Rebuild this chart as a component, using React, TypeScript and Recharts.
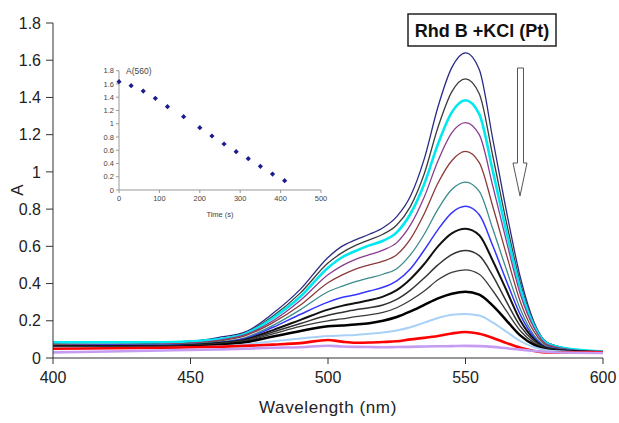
import { LineChart, Line, XAxis, YAxis, ScatterChart, Scatter } from 'recharts';

// wavelengths (nm) sampled for every spectrum
const WAVELENGTHS = [400, 420, 440, 450, 460, 470, 480, 490, 500, 505, 510, 515, 520, 525, 530, 535, 540, 545, 550, 555, 560, 565, 570, 575, 580, 590, 600];

// absorbance spectra, from t = 0 s (top) down to t = 410 s (bottom)
const S1 = [0.08, 0.085, 0.085, 0.09, 0.11, 0.14, 0.24, 0.37, 0.54, 0.6, 0.635, 0.665, 0.7, 0.76, 0.87, 1.07, 1.35, 1.56, 1.64, 1.55, 1.17, 0.78, 0.43, 0.19, 0.08, 0.045, 0.035];
const S2 = [0.075, 0.075, 0.08, 0.085, 0.1, 0.135, 0.225, 0.35, 0.51, 0.565, 0.605, 0.635, 0.665, 0.715, 0.815, 0.99, 1.24, 1.43, 1.5, 1.42, 1.08, 0.72, 0.4, 0.18, 0.08, 0.045, 0.035];
const S3 = [0.085, 0.085, 0.085, 0.09, 0.1, 0.13, 0.215, 0.33, 0.485, 0.54, 0.575, 0.605, 0.63, 0.675, 0.775, 0.935, 1.15, 1.32, 1.385, 1.31, 1.0, 0.67, 0.37, 0.17, 0.075, 0.045, 0.035];
const S4 = [0.07, 0.07, 0.075, 0.08, 0.095, 0.125, 0.2, 0.31, 0.447, 0.495, 0.53, 0.555, 0.58, 0.62, 0.715, 0.865, 1.06, 1.21, 1.265, 1.2, 0.92, 0.62, 0.34, 0.16, 0.07, 0.042, 0.035];
const S5 = [0.07, 0.07, 0.072, 0.078, 0.09, 0.12, 0.19, 0.285, 0.404, 0.445, 0.478, 0.5, 0.52, 0.555, 0.64, 0.775, 0.94, 1.06, 1.11, 1.05, 0.81, 0.55, 0.3, 0.14, 0.065, 0.04, 0.033];
const S6 = [0.068, 0.068, 0.07, 0.075, 0.085, 0.11, 0.175, 0.26, 0.356, 0.385, 0.41, 0.43, 0.45, 0.48, 0.555, 0.665, 0.8, 0.905, 0.945, 0.895, 0.69, 0.47, 0.26, 0.12, 0.06, 0.04, 0.033];
const S7 = [0.065, 0.07, 0.068, 0.072, 0.082, 0.105, 0.165, 0.235, 0.3, 0.325, 0.34, 0.36, 0.38, 0.415, 0.48, 0.58, 0.69, 0.78, 0.815, 0.77, 0.6, 0.41, 0.23, 0.11, 0.055, 0.038, 0.032];
const S8 = [0.065, 0.065, 0.065, 0.07, 0.08, 0.1, 0.15, 0.205, 0.26, 0.28, 0.295, 0.31, 0.33, 0.365, 0.425, 0.505, 0.6, 0.67, 0.695, 0.66, 0.52, 0.36, 0.2, 0.1, 0.052, 0.036, 0.032];
const S9 = [0.062, 0.062, 0.063, 0.068, 0.077, 0.095, 0.14, 0.185, 0.23, 0.245, 0.259, 0.27, 0.285, 0.315, 0.365, 0.43, 0.5, 0.555, 0.577, 0.55, 0.44, 0.3, 0.17, 0.09, 0.05, 0.035, 0.032];
const S10 = [0.06, 0.06, 0.06, 0.065, 0.074, 0.09, 0.13, 0.17, 0.2, 0.21, 0.222, 0.232, 0.245, 0.27, 0.31, 0.36, 0.42, 0.46, 0.474, 0.45, 0.36, 0.25, 0.145, 0.08, 0.046, 0.034, 0.031];
const S11 = [0.058, 0.058, 0.058, 0.062, 0.07, 0.085, 0.115, 0.145, 0.17, 0.175, 0.18, 0.187, 0.2, 0.22, 0.25, 0.285, 0.32, 0.345, 0.356, 0.34, 0.28, 0.2, 0.12, 0.07, 0.043, 0.033, 0.03];
const S12 = [0.055, 0.055, 0.055, 0.058, 0.063, 0.073, 0.09, 0.105, 0.118, 0.121, 0.124, 0.13, 0.137, 0.148, 0.165, 0.19, 0.215, 0.232, 0.237, 0.228, 0.19, 0.14, 0.09, 0.058, 0.04, 0.032, 0.03];
const S13 = [0.05, 0.052, 0.055, 0.058, 0.06, 0.065, 0.072, 0.08, 0.097, 0.088, 0.082, 0.083, 0.086, 0.09, 0.1, 0.108, 0.118, 0.132, 0.14, 0.13, 0.108, 0.08, 0.055, 0.038, 0.03, 0.03, 0.03];
const S14 = [0.03, 0.035, 0.04, 0.043, 0.046, 0.05, 0.055, 0.058, 0.066, 0.062, 0.06, 0.059, 0.058, 0.059, 0.06, 0.062, 0.063, 0.064, 0.065, 0.064, 0.06, 0.052, 0.045, 0.038, 0.032, 0.028, 0.027];

const SPECTRA = [S1, S2, S3, S4, S5, S6, S7, S8, S9, S10, S11, S12, S13, S14];
const COLORS = ['#2b2b86', '#3c3c3c', '#00e8f0', '#8a3d90', '#8b3b3b', '#3b8b8b', '#3535ff', '#111111', '#333333', '#3a3a3a', '#000000', '#a9d1f7', '#ff0000', '#c59cf2'];
const WIDTHS = [1.3, 1.3, 2.6, 1.3, 1.3, 1.3, 1.5, 2, 1.5, 1.3, 2.5, 2, 2.6, 2.6];

const X_TICKS = [400, 450, 500, 550, 600];
const Y_TICKS = [0, 0.2, 0.4, 0.6, 0.8, 1, 1.2, 1.4, 1.6, 1.8];

// inset: absorbance at 560 nm vs time
const TIMES = [0, 30, 60, 90, 120, 160, 200, 230, 260, 290, 320, 350, 380, 410];
const A560 = [1.634, 1.574, 1.493, 1.383, 1.257, 1.106, 0.94, 0.815, 0.694, 0.578, 0.473, 0.357, 0.241, 0.141];
const INSET_X_TICKS = [0, 100, 200, 300, 400, 500];

const rows = WAVELENGTHS.map((w, i) => {
  const r: { [k: string]: number } = { w };
  SPECTRA.forEach((s, j) => { r['s' + j] = s[i]; });
  return r;
});
const insetData = TIMES.map((t, i) => ({ t, a: A560[i] }));

const FONT = '"Liberation Sans", Arial, sans-serif';

// small diamond marker, placed at the point the scatter scale gives
const SmallDiamond = (p: any) => {
  const { cx, cy } = p;
  const r = 2.6;
  return <polygon points={`${cx},${cy - r} ${cx + r},${cy} ${cx},${cy + r} ${cx - r},${cy}`} fill="#1c1c8e" />;
};

export default function App() {
  return (
    <div style={{ position: 'absolute', left: 0, top: 0, width: 619, height: 423, background: '#fff', fontFamily: FONT }}>
      <LineChart width={619} height={423} data={rows} margin={{ top: 23, right: 16, left: 0, bottom: 20 }}>
        <XAxis
          dataKey="w" type="number" domain={[400, 600]} ticks={X_TICKS} height={45}
          tick={{ fontSize: 16, fill: '#222', fontFamily: FONT }} tickSize={6} tickMargin={8}
          stroke="#333"
          label={{ value: 'Wavelength (nm)', position: 'insideBottom', offset: -10, fontSize: 17, fill: '#222', fontFamily: FONT, letterSpacing: 0.6 }}
        />
        <YAxis
          type="number" domain={[0, 1.8]} ticks={Y_TICKS} width={53} interval={0}
          tick={{ fontSize: 16, fill: '#222', fontFamily: FONT }} tickSize={7} tickMargin={5}
          stroke="#333"
        />
        {SPECTRA.map((_, j) => (
          <Line key={j} type="monotone" dataKey={'s' + j} stroke={COLORS[j]} strokeWidth={WIDTHS[j]} dot={false} isAnimationActive={false} />
        ))}
      </LineChart>

      <div style={{ position: 'absolute', left: 90, top: 60 }}>
        <ScatterChart width={240} height={165} margin={{ top: 10.7, right: 9, left: 0, bottom: 12 }}>
          <XAxis
            dataKey="t" type="number" domain={[0, 500]} ticks={INSET_X_TICKS} height={23} interval={0}
            tick={{ fontSize: 7.5, fill: '#444', fontFamily: FONT }} tickSize={3} tickMargin={3} stroke="#999"
            label={{ value: 'Time (s)', position: 'insideBottom', offset: -4, fontSize: 7.5, fill: '#444', fontFamily: FONT }}
          />
          <YAxis
            dataKey="a" type="number" domain={[0, 1.8]} ticks={Y_TICKS} width={29} interval={0}
            tick={{ fontSize: 7.5, fill: '#444', fontFamily: FONT }} tickSize={3} tickMargin={2} stroke="#999"
          />
          <Scatter data={insetData} shape={SmallDiamond} isAnimationActive={false} />
        </ScatterChart>
      </div>

      <svg width={619} height={423} style={{ position: 'absolute', left: 0, top: 0, pointerEvents: 'none' }}>
        <text x={126} y={73.5} fontSize={8.5} fill="#444" fontFamily={FONT}>A(560)</text>
        <text x={0} y={0} fontSize={17} fill="#222" fontFamily={FONT} textAnchor="middle" transform="translate(23,190) rotate(-90)">A</text>
        <rect x={408} y={14} width={148} height={32} fill="#fff" stroke="#222" strokeWidth={1.5} />
        <text x={482} y={36.5} fontSize={18} fontWeight="bold" fill="#111" fontFamily={FONT} textAnchor="middle">Rhd B +KCl (Pt)</text>
        <polygon points="517.5,68 523.5,68 523.5,163 527,163 520,196 513,163 517.5,163" fill="#fff" stroke="#555" strokeWidth={1} />
      </svg>
    </div>
  );
}
